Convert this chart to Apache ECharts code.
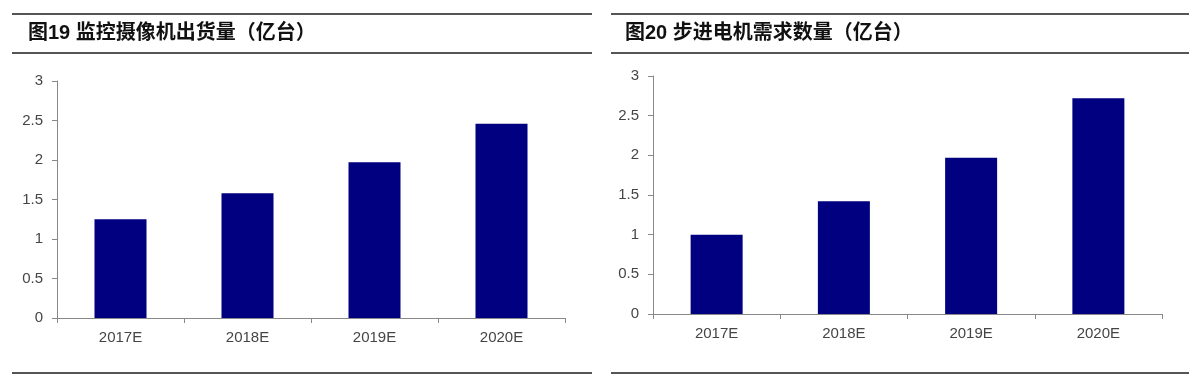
<!DOCTYPE html>
<html>
<head>
<meta charset="utf-8">
<script src="https://cdn.jsdelivr.net/npm/echarts@6/dist/echarts.min.js"></script>
<style>
html,body{margin:0;padding:0;background:#fff;}
#c{width:1202px;height:386px;}
</style>
</head>
<body>
<div id="c"></div>
<script>
const categories = ['2017E', '2018E', '2019E', '2020E'];
const cameraShipments = [1.25, 1.58, 1.97, 2.46];
const stepperDemand = [1.0, 1.42, 1.97, 2.72];
const titleLeft = '图19 监控摄像机出货量（亿台）';
const titleRight = '图20 步进电机需求数量（亿台）';
const yMin = 0, yMax = 3, yStep = 0.5;

const labelFont = 'Liberation Sans, Arial, sans-serif';
const titleFont = '"Liberation Sans", "Noto Sans CJK SC", sans-serif';
const axisGray = '#888888';
const textGray = '#454545';
const ruleColor = '#555555';
const barColor = '#000080';

function xAxis(gridIndex) {
  return {
    type: 'category', gridIndex, data: categories, boundaryGap: true,
    axisLine: {show: true, lineStyle: {color: axisGray, width: 1}},
    axisTick: {show: true, alignWithLabel: false, length: 5, lineStyle: {color: axisGray}},
    axisLabel: {color: textGray, fontSize: 15, fontFamily: labelFont, margin: 12},
    splitLine: {show: false}
  };
}
function yAxis(gridIndex) {
  return {
    type: 'value', gridIndex, min: yMin, max: yMax, interval: yStep,
    axisLine: {show: true, lineStyle: {color: axisGray, width: 1}},
    axisTick: {show: true, length: 5, lineStyle: {color: axisGray}},
    axisLabel: {color: textGray, fontSize: 15, fontFamily: labelFont, margin: 14},
    splitLine: {show: false}
  };
}
function rule(x1, x2, y) {
  return {type: 'line', shape: {x1, y1: y, x2, y2: y}, style: {stroke: ruleColor, lineWidth: 2}, silent: true};
}

const chart = echarts.init(document.getElementById('c'), null, {renderer: 'canvas'});
chart.setOption({
  animation: false,
  backgroundColor: '#ffffff',
  title: [
    {text: titleLeft, left: 28, top: 23, padding: 0,
     textStyle: {fontSize: 20, fontWeight: 'bold', color: '#111', fontFamily: titleFont}},
    {text: titleRight, left: 625, top: 23, padding: 0,
     textStyle: {fontSize: 20, fontWeight: 'bold', color: '#111', fontFamily: titleFont}}
  ],
  graphic: [
    rule(12, 592, 14), rule(12, 592, 53), rule(12, 592, 373),
    rule(611, 1189, 14), rule(611, 1189, 53), rule(611, 1189, 373)
  ],
  grid: [
    {left: 57, top: 81, width: 508, height: 237, containLabel: false},
    {left: 653, top: 76, width: 509, height: 238, containLabel: false}
  ],
  xAxis: [xAxis(0), xAxis(1)],
  yAxis: [yAxis(0), yAxis(1)],
  series: [
    {type: 'bar', xAxisIndex: 0, yAxisIndex: 0, data: cameraShipments, barWidth: 52,
     itemStyle: {color: barColor}},
    {type: 'bar', xAxisIndex: 1, yAxisIndex: 1, data: stepperDemand, barWidth: 52,
     itemStyle: {color: barColor}}
  ]
});
</script>
</body>
</html>
